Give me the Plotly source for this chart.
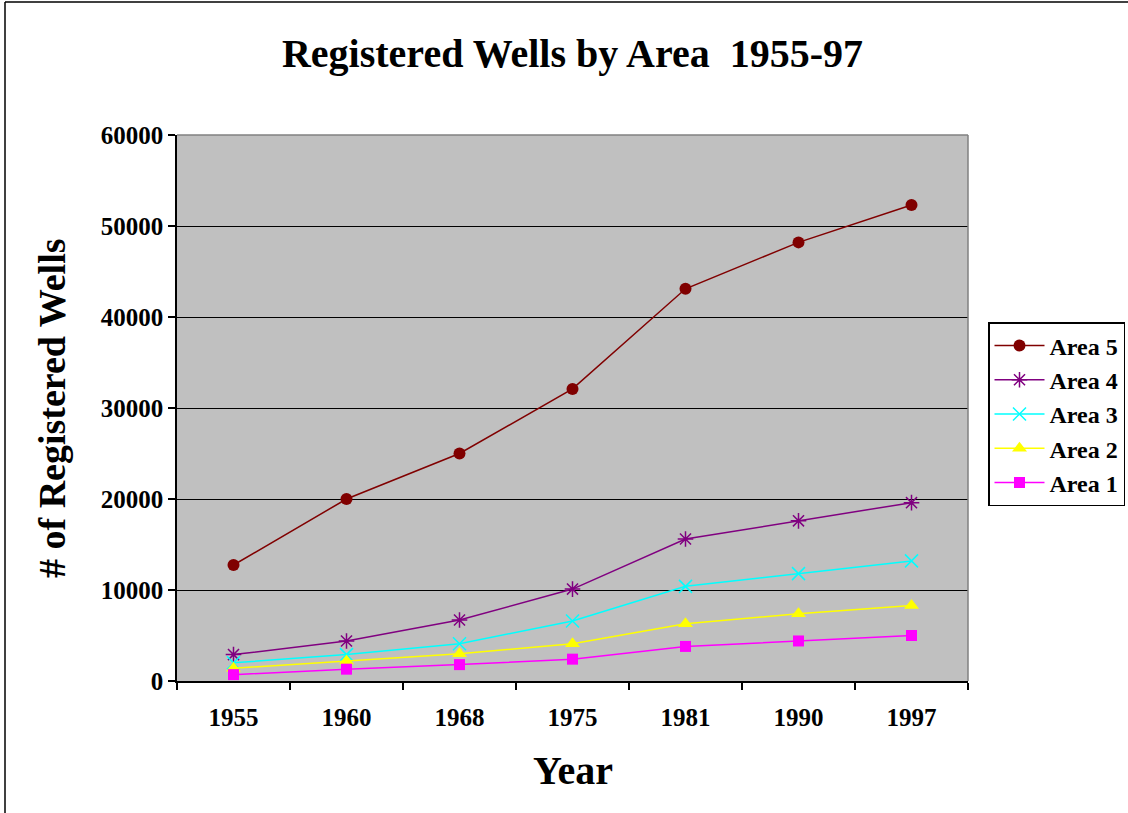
import plotly.graph_objects as go

years = ["1955", "1960", "1968", "1975", "1981", "1990", "1997"]
area5 = [12750, 20000, 25000, 32100, 43100, 48200, 52300]
area4 = [2900, 4400, 6700, 10100, 15600, 17600, 19600]
area3 = [2000, 2900, 4100, 6600, 10400, 11800, 13200]
area2 = [1400, 2200, 3000, 4100, 6300, 7400, 8300]
area1 = [700, 1300, 1800, 2400, 3800, 4400, 5000]

FONT = "Liberation Serif"

fig = go.Figure()
series = [
    ("Area 5", area5, "#800000", dict(symbol="circle", size=12, color="#800000")),
    ("Area 4", area4, "#800080", dict(symbol="asterisk-open", size=13, color="#800080", line=dict(color="#800080", width=1.5))),
    ("Area 3", area3, "#00FFFF", dict(symbol="x-thin-open", size=13, color="#00FFFF", line=dict(color="#00FFFF", width=1.5))),
    ("Area 2", area2, "#FFFF00", dict(symbol="triangle-up", size=13, color="#FFFF00")),
    ("Area 1", area1, "#FF00FF", dict(symbol="square", size=11, color="#FF00FF")),
]
for name, vals, col, mk in series:
    fig.add_trace(go.Scatter(x=years, y=vals, name="<b>" + name + "</b>", mode="lines+markers",
                             line=dict(color=col, width=1.5), marker=mk))

fig.update_layout(
    width=1128, height=813,
    margin=dict(l=177, r=160, t=135, b=132, autoexpand=False),
    paper_bgcolor="white", plot_bgcolor="#C0C0C0",
    font=dict(family=FONT, color="black"),
    showlegend=True,
    legend=dict(x=(988 - 177) / 791, xanchor="left", y=(681 - 322) / 546, yanchor="top",
                bordercolor="black", borderwidth=1.5, bgcolor="white",
                font=dict(family=FONT, size=24, color="black"),
                tracegroupgap=0, itemwidth=50),
    title=dict(text="<b>Registered Wells by Area  1955-97</b>", x=0.5, xref="paper",
               y=1 - 53 / 813, yanchor="middle", font=dict(family=FONT, size=40)),
    xaxis=dict(type="category", showgrid=False, showline=True, linecolor="black", linewidth=1.5,
               ticks="outside", tickson="boundaries", ticklen=7, tickcolor="black", tickwidth=1.5,
               tickfont=dict(family=FONT, size=25, color="black"), tickprefix="<b>", ticksuffix="</b>",
               ticklabelstandoff=13, range=[-0.5, 6.5], zeroline=False),
    yaxis=dict(range=[0, 60000], dtick=10000, showgrid=True, gridcolor="black", gridwidth=1,
               showline=True, linecolor="black", linewidth=1.5, ticks="outside", ticklen=7,
               tickcolor="black", tickwidth=1.5, zeroline=False,
               tickfont=dict(family=FONT, size=25, color="black"), tickprefix="<b>", ticksuffix="</b>",
               tickformat="d"),
    annotations=[
        dict(text="<b># of Registered Wells</b>", xref="paper", yref="paper",
             x=(52 - 177) / 791, y=0.5, textangle=-90, showarrow=False,
             font=dict(family=FONT, size=38, color="black"), xanchor="center", yanchor="middle"),
        dict(text="<b>Year</b>", xref="paper", yref="paper",
             x=0.5, y=(681 - 770) / 546, showarrow=False,
             font=dict(family=FONT, size=40, color="black"), xanchor="center", yanchor="middle"),
    ],
    shapes=[
        dict(type="line", xref="paper", yref="paper", x0=1, x1=1, y0=0, y1=1,
             line=dict(color="#808080", width=1.5)),
        dict(type="line", xref="paper", yref="paper", x0=0, x1=1, y0=1, y1=1,
             line=dict(color="#808080", width=1.5)),
        dict(type="line", xref="paper", yref="paper", x0=(5 - 177) / 791, x1=(5 - 177) / 791,
             y0=(681 - 813) / 546, y1=(681 - 2) / 546, line=dict(color="black", width=1.5)),
        dict(type="line", xref="paper", yref="paper", x0=(5 - 177) / 791, x1=(1128 - 177) / 791,
             y0=(681 - 2) / 546, y1=(681 - 2) / 546, line=dict(color="black", width=1.5)),
    ],
)

fig.write_html("out.html", config={"displayModeBar": False},
               post_script="document.body.style.margin='0';document.body.style.padding='0';")
